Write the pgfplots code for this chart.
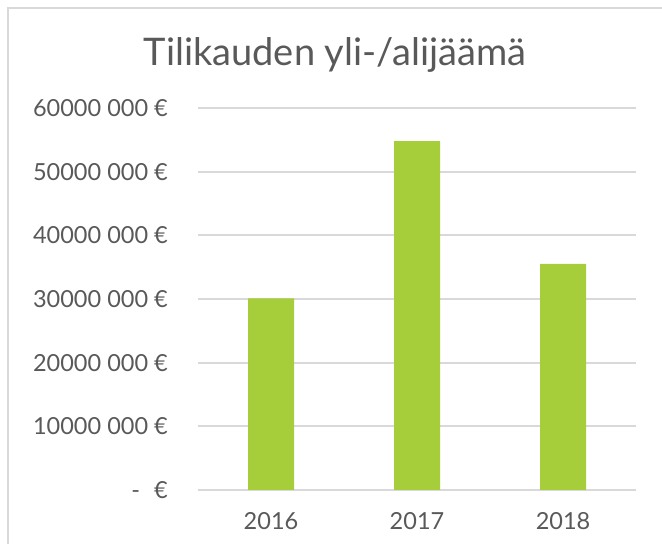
\documentclass[border=0pt]{standalone}
\usepackage{pgfplots}
\pgfplotsset{compat=1.18}
\usepackage{fontspec}
\setmainfont{Lato}
\definecolor{txt}{HTML}{595959}
\definecolor{gridc}{HTML}{D9D9D9}
\definecolor{barc}{HTML}{A6CD3A}
\begin{document}
\begin{tikzpicture}[x=1bp,y=1bp]
\path[use as bounding box] (0,0) rectangle (662,544);
\draw[gridc, line width=2bp] (8,0) -- (8,536) -- (662,536);
\node[font=\fontsize{38bp}{44bp}\selectfont, text=txt, anchor=base] at (335,478) {Tilikauden yli-/alijäämä};
\begin{axis}[
  at={(198bp,54bp)}, anchor=south west,
  scale only axis, width=438bp, height=382bp,
  xmin=-0.5, xmax=2.5, ymin=0, ymax=60000000,
  scaled y ticks=false,
  axis line style={draw=none},
  tick style={draw=none},
  ymajorgrids, grid style={gridc, line width=2bp},
  xtick={0,1,2}, xticklabels={2016,2017,2018},
  ytick={0,10000000,20000000,30000000,40000000,50000000,60000000},
  yticklabels={{-\hspace{14bp}€},{10000 000 €},{20000 000 €},{30000 000 €},{40000 000 €},{50000 000 €},{60000 000 €}},
  ticklabel style={font=\fontsize{23.5bp}{28bp}\selectfont, text=txt, inner sep=0pt},
  yticklabel style={anchor=east, xshift=-30bp},
  xticklabel style={anchor=north, yshift=-22bp},
  clip=false,
]
\addplot[ybar, bar width=46bp, fill=barc, draw=none] coordinates {(0,30100000) (1,54800000) (2,35500000)};
\end{axis}
\end{tikzpicture}
\end{document}
